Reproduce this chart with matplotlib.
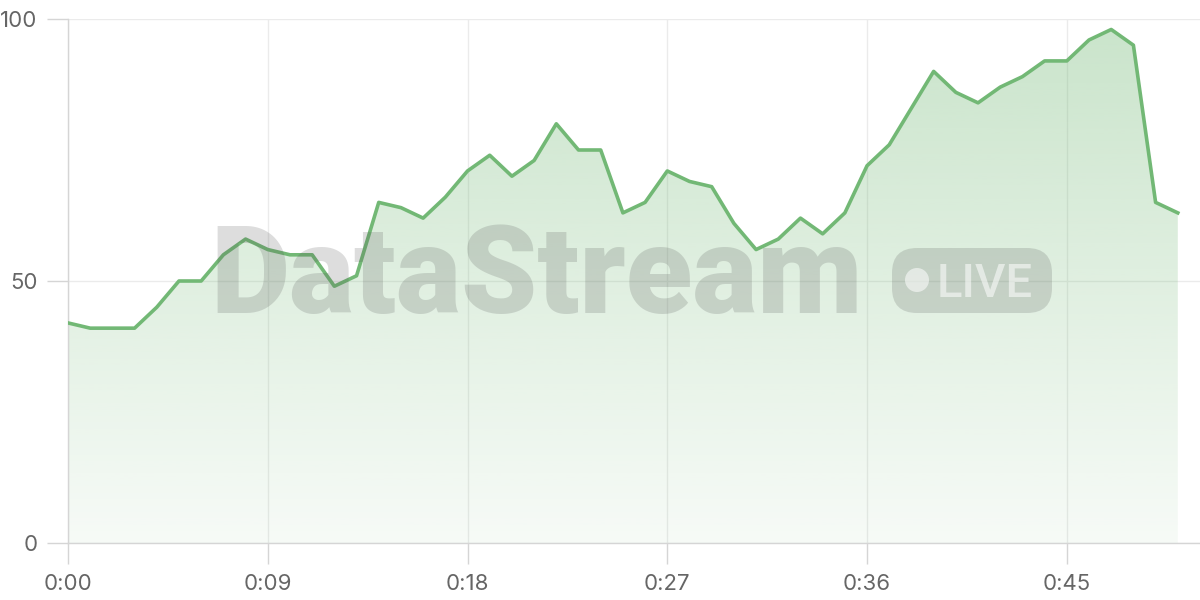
import numpy as np
import matplotlib
matplotlib.use("Agg")
import matplotlib.pyplot as plt
from matplotlib.patches import FancyBboxPatch, Circle
from matplotlib.colors import to_rgb

# ---- data ----
seconds = list(range(51))
values = [42, 41, 41, 41, 45, 50, 50, 55, 58, 56, 55, 55, 49, 51, 65, 64, 62, 66,
          71, 74, 70, 73, 80, 75, 75, 63, 65, 71, 69, 68, 61, 56, 58, 62, 59, 63,
          72, 76, 83, 90, 86, 84, 87, 89, 92, 92, 96, 98, 95, 65, 63]
xtick_pos = [0, 9, 18, 27, 36, 45]
xtick_labels = ["0:00", "0:09", "0:18", "0:27", "0:36", "0:45"]
ytick_pos = [0, 50, 100]
ytick_labels = ["0", "50", "100"]

line_color = "#72b875"
grid_color = "#ebebeb"
label_color = "#666666"

plt.rcParams['font.family'] = ['Inter', 'DejaVu Sans']

fig = plt.figure(figsize=(12, 6), dpi=100)
ax = fig.add_axes([68/1200, 1-543/600, 1-68/1200, (543-19)/600])
ax.set_xlim(0, 51)
ax.set_ylim(0, 100)

x = np.array(seconds, dtype=float)
y = np.array(values, dtype=float)

# gradient fill
rgb = to_rgb(line_color)
n = 256
alphas = np.linspace(0.06, 0.38, n)[:, None]
img = np.zeros((n, 1, 4))
img[..., 0], img[..., 1], img[..., 2] = rgb
img[..., 3] = alphas
poly = ax.fill_between(x, y, 0, color='none', lw=0)
im = ax.imshow(img, extent=[x[0], x[-1], 0, 100], origin='lower', aspect='auto', zorder=1)
path = poly.get_paths()[0]
im.set_clip_path(path, transform=ax.transData)

ax.plot(x, y, color=line_color, lw=2.6, zorder=4, solid_joinstyle='round')

ax.set_xticks(xtick_pos)
ax.set_xticklabels(xtick_labels)
ax.set_yticks(ytick_pos)
ax.set_yticklabels(ytick_labels)
ax.grid(True, color=grid_color, lw=1.0, zorder=0)
ax.set_axisbelow(True)
for s in ['top', 'right']:
    ax.spines[s].set_visible(False)
for s in ['left', 'bottom']:
    ax.spines[s].set_color('#d5d5d5')
    ax.spines[s].set_linewidth(1.0)
ax.tick_params(axis='both', colors='#d5d5d5', labelcolor=label_color,
               labelsize=16, length=15, width=1.0)
ax.tick_params(axis='x', pad=7)
ax.tick_params(axis='y', pad=7)

# watermark
inch = fig.dpi_scale_trans
wm_color = '#555555'
wm_alpha = 0.2
fig.text(2.10, 2.87, "DataStream", transform=inch, fontsize=88,
         family=['Roboto'], fontweight='black', color=wm_color,
         alpha=wm_alpha, ha='left', va='baseline', zorder=3)
badge = FancyBboxPatch((8.92 + 0.25, 2.87 + 0.25), 1.60 - 0.5, 0.65 - 0.5,
                       boxstyle="round,pad=0.25", transform=inch,
                       facecolor=wm_color, edgecolor='none', alpha=wm_alpha, zorder=3)
fig.patches.append(badge)
dot = Circle((9.17, 3.20), 0.12, transform=inch, facecolor='white',
             edgecolor='none', alpha=0.55, zorder=3)
fig.patches.append(dot)
fig.text(9.37, 3.03, "LIVE", transform=inch, fontsize=34,
         family=['Roboto'], fontweight='medium', color='white', alpha=0.55,
         ha='left', va='baseline', zorder=3)

fig.savefig("out.png", dpi=100)
